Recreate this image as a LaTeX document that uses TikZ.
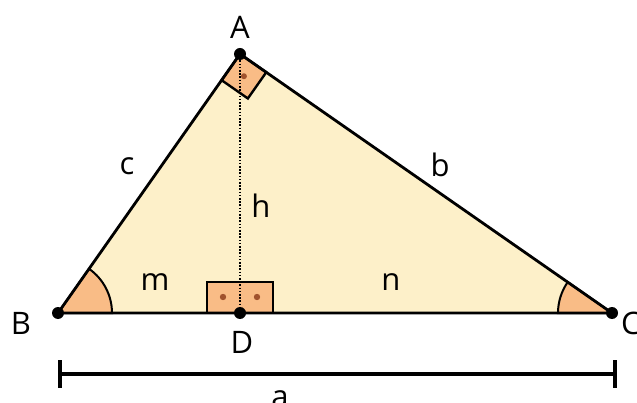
\documentclass[tikz,border=0pt]{standalone}
\usepackage{fontspec}
\setmainfont{Open Sans}
\usetikzlibrary{calc}
\definecolor{tri}{HTML}{FDF0C9}
\definecolor{ang}{HTML}{F9BC86}
\definecolor{dotc}{HTML}{A0522D}
\tikzset{
  lbl/.style={font=\fontsize{31}{34}\selectfont, inner sep=0pt},
  vtx/.style={circle, fill=black, inner sep=0pt, minimum size=12pt},
  edge/.style={line width=2.8pt},
}
\begin{document}
\begin{tikzpicture}[x=1pt,y=-1pt]
\useasboundingbox (0,0) rectangle (637,403);
\coordinate (B) at (58,313);
\coordinate (C) at (612,313);
\coordinate (A) at (240,54);
\coordinate (D) at (240,313);
% fill
\fill[tri] (A) -- (B) -- (C) -- cycle;
% angle sectors
\filldraw[fill=ang, draw=black, line width=2pt] (B) -- ++(0:54) arc[start angle=0, end angle=-54.9, radius=54] -- cycle;
\filldraw[fill=ang, draw=black, line width=2pt] (C) -- ++(180:54) arc[start angle=180, end angle=214.9, radius=54] -- cycle;
% right angle at A
\coordinate (A1) at ($(A)!32pt!(B)$);
\coordinate (A2) at ($(A)!32pt!(C)$);
\filldraw[fill=ang, draw=black, line width=2.4pt] (A) -- (A1) -- ($(A1)+(A2)-(A)$) -- (A2) -- cycle;
\fill[dotc] ($(A)!0.5!($(A1)+(A2)-(A)$)$) circle (3pt);
% rectangle at D
\filldraw[fill=ang, draw=black, line width=2.4pt] (207,313) rectangle (273,282);
\fill[dotc] (223,297) circle (3.2pt) (257,297) circle (3.2pt);
% triangle edges
\draw[edge, line join=round] (A) -- (B) -- (C) -- cycle;
% altitude
\draw[line width=2pt, dash pattern=on 1.6pt off 1.6pt] (A) -- (D);
% vertices
\node[vtx] (vA) at (A) {};
\node[vtx] (vB) at (B) {};
\node[vtx] (vC) at (C) {};
\node[vtx] (vD) at (D) {};
% labels
\node[lbl] (lA) at (240,27) {A};
\node[lbl] (lB) at (21,323) {B};
\node[lbl] (lC) at (631,323) {C};
\node[lbl] (lD) at (242,342) {D};
\node[lbl] (lc) at (127,166) {c};
\node[lbl] (lb) at (440,165) {b};
\node[lbl] (lh) at (261,206) {h};
\node[lbl] (lm) at (155,282) {m};
\node[lbl] (ln) at (391,282) {n};
\node[lbl] (la) at (280,399) {a};
% dimension bar
\coordinate (L) at (60,374);
\coordinate (R) at (615,374);
\draw[line width=4.5pt] (L) -- (R);
\draw[line width=3.5pt] ($(L)+(0,-14)$) -- ($(L)+(0,14)$);
\draw[line width=3.5pt] ($(R)+(0,-14)$) -- ($(R)+(0,14)$);
\end{tikzpicture}
\end{document}
